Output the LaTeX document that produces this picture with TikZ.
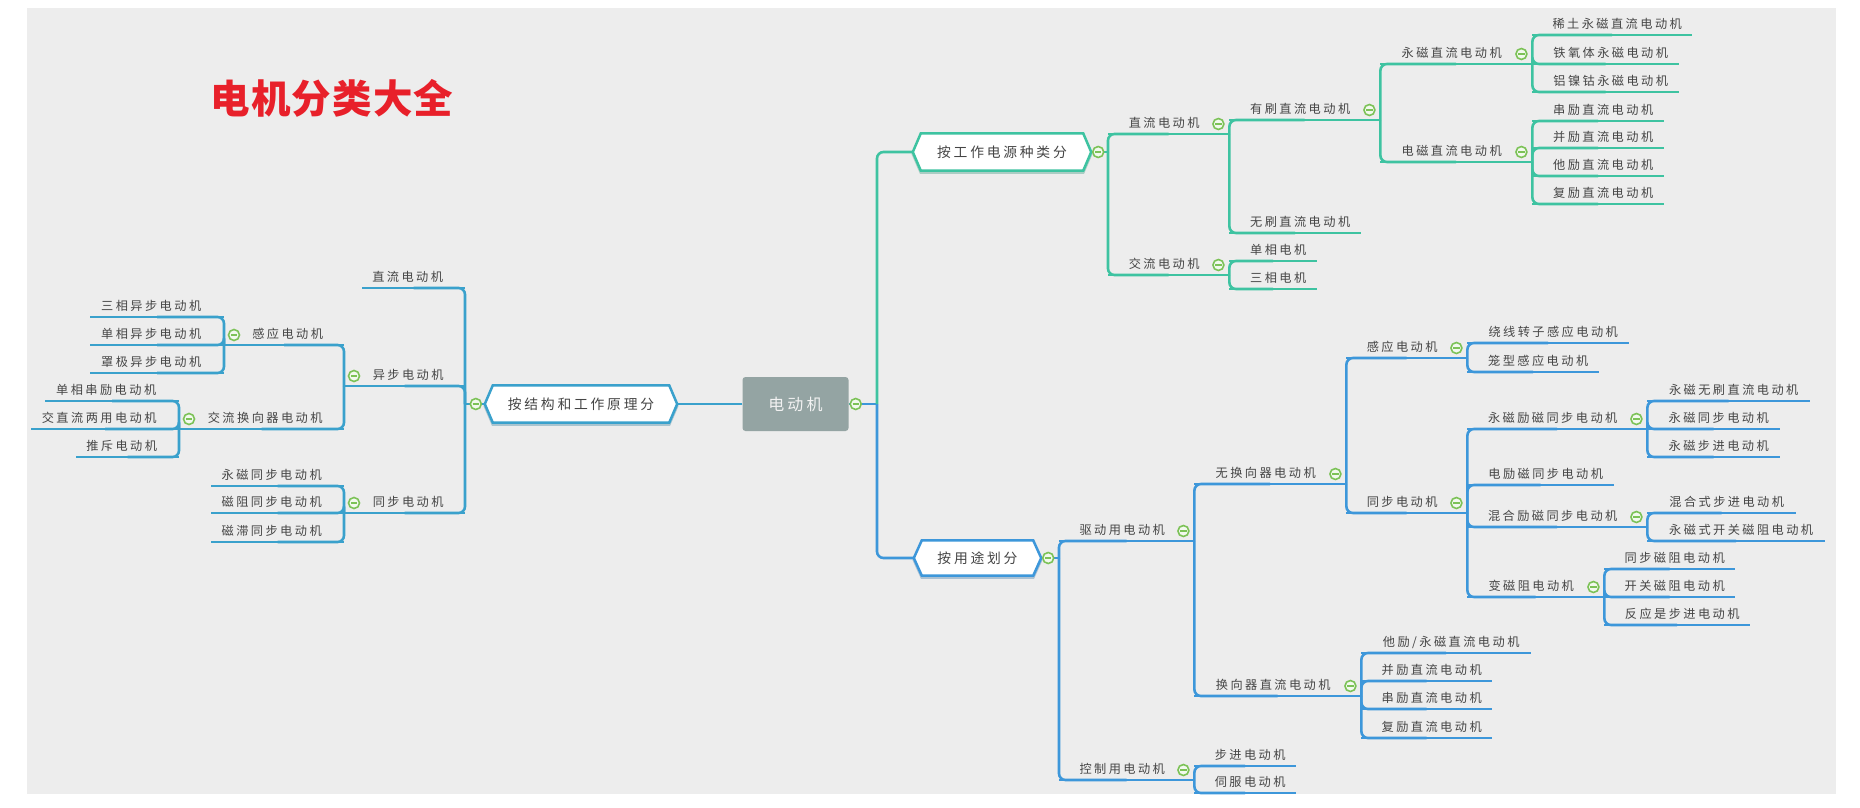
\documentclass[tikz,border=0pt]{standalone}
\usepackage{fontspec}
\setmainfont{Noto Sans CJK SC}
\newfontfamily\cjk{Noto Sans CJK SC}[LetterSpace=20]
\newfontfamily\cjkt{Noto Sans CJK SC}[LetterSpace=3]
\definecolor{cteal}{HTML}{3EC3A1}
\definecolor{cblue}{HTML}{3D97DA}
\definecolor{ccyan}{HTML}{3AA1CC}
\definecolor{cgray}{HTML}{94A4A3}
\definecolor{ctxt}{HTML}{454545}
\definecolor{cgreen}{HTML}{7CC257}
\definecolor{cred}{HTML}{E8202A}
\definecolor{cbg}{HTML}{EDEDED}
\pgfdeclarelayer{back}
\pgfsetlayers{back,main}
\begin{document}
\begin{tikzpicture}[x=1pt,y=-1pt,
  topic/.style={inner sep=0pt, minimum height=21pt, anchor=south west, text=ctxt, font=\cjk\fontsize{12.2}{13}\selectfont},
  rleaf/.style={topic, execute at begin node={\hspace*{10pt}}},
  lleaf/.style={topic, execute at end node={\hspace*{12pt}}},
  rmid/.style={topic, execute at end node={\hspace*{9pt}}},
  lmid/.style={topic, execute at begin node={\hspace*{7pt}}},
  hexn/.style={inner sep=0pt, minimum height=37pt, text=ctxt, font=\cjk\fontsize{13.8}{15}\selectfont},
  coll/.style={circle, draw=cgreen, fill=white!90!cgreen, line width=1.6pt, minimum size=11pt, inner sep=0pt,
    path picture={\draw[cgreen, line width=1.6pt] ([xshift=2.4pt]path picture bounding box.west) -- ([xshift=-2.4pt]path picture bounding box.east);}},
  conn/.style={line width=2.6pt, rounded corners=6.5pt},
  hexshape/.style={line width=2.5pt, fill=white, line join=miter},
]
\useasboundingbox (0,0) rectangle (1860,808);

% title
\node[font=\cjkt\bfseries\fontsize{39.5}{41}\selectfont, text=cred] (title) at (332,98) {电机分类大全};

% central node
\node[rounded corners=3pt, fill=cgray, minimum width=106pt, minimum height=54pt, inner sep=0pt,
      text=white!90!gray, font=\cjk\fontsize{16}{18}\selectfont] (C0) at (795.5,404) {电动机};

% main branch nodes
\node[hexn, minimum width=192pt] (L) at (581,404) {按结构和工作原理分};
\node[hexn, minimum width=178pt] (R1) at (1002,152) {按工作电源种类分};
\node[hexn, minimum width=127pt, minimum height=35pt] (R2) at (977.5,558) {按用途划分};

\coordinate (Ltr) at (465,404);
\coordinate (Rtr) at (877,404);
\coordinate (R1tr) at (1108,152);
\coordinate (R2tr) at (1059,558);

% ---------- right top (teal) ----------
\node[rmid, minimum width=121pt] (RA) at (1108,134) {直流电动机};
\node[rmid, minimum width=121pt] (RB) at (1108,275) {交流电动机};
\node[rmid, minimum width=151pt] (RA1) at (1229,120) {有刷直流电动机};
\node[rleaf, minimum width=132pt] (RA2) at (1229,233) {无刷直流电动机};
\node[rmid, minimum width=152pt] (RA11) at (1380,64) {永磁直流电动机};
\node[rmid, minimum width=152pt] (RA12) at (1380,162) {电磁直流电动机};
\node[rleaf, minimum width=160pt] (RA111) at (1532,35) {稀土永磁直流电动机};
\node[rleaf, minimum width=147pt] (RA112) at (1532,64) {铁氧体永磁电动机};
\node[rleaf, minimum width=147pt] (RA113) at (1532,92) {铝镍钴永磁电动机};
\node[rleaf, minimum width=132pt] (RA121) at (1532,121) {串励直流电动机};
\node[rleaf, minimum width=132pt] (RA122) at (1532,148) {并励直流电动机};
\node[rleaf, minimum width=132pt] (RA123) at (1532,176) {他励直流电动机};
\node[rleaf, minimum width=132pt] (RA124) at (1532,204) {复励直流电动机};
\node[rleaf, minimum width=88pt] (RB1) at (1229,261) {单相电机};
\node[rleaf, minimum width=88pt] (RB2) at (1229,289) {三相电机};

% ---------- right bottom (blue) ----------
\node[rmid, minimum width=135pt] (S1) at (1059,541) {驱动用电动机};
\node[rmid, minimum width=135pt] (S2) at (1059,780) {控制用电动机};
\node[rmid, minimum width=152pt] (S11) at (1194,484) {无换向器电动机};
\node[rmid, minimum width=167pt] (S12) at (1194,696) {换向器直流电动机};
\node[rmid, minimum width=121pt] (S111) at (1346,358) {感应电动机};
\node[rmid, minimum width=121pt] (S112) at (1346,513) {同步电动机};
\node[rleaf, minimum width=162pt] (S1111) at (1467,343) {绕线转子感应电动机};
\node[rleaf, minimum width=132pt] (S1112) at (1467,372) {笼型感应电动机};
\node[rmid, minimum width=180pt] (S1121) at (1467,429) {永磁励磁同步电动机};
\node[rleaf, minimum width=147pt] (S1122) at (1467,485) {电励磁同步电动机};
\node[rmid, minimum width=180pt] (S1123) at (1467,527) {混合励磁同步电动机};
\node[rmid, minimum width=137pt] (S1124) at (1467,597) {变磁阻电动机};
\node[rleaf, minimum width=163pt] (S11211) at (1647,401) {永磁无刷直流电动机};
\node[rleaf, minimum width=133pt] (S11212) at (1647,429) {永磁同步电动机};
\node[rleaf, minimum width=133pt] (S11213) at (1647,457) {永磁步进电动机};
\node[rleaf, minimum width=149pt] (S11231) at (1647,513) {混合式步进电动机};
\node[rleaf, minimum width=178pt] (S11232) at (1647,541) {永磁式开关磁阻电动机};
\node[rleaf, minimum width=131pt] (S11241) at (1604,569) {同步磁阻电动机};
\node[rleaf, minimum width=131pt] (S11242) at (1604,597) {开关磁阻电动机};
\node[rleaf, minimum width=146pt] (S11243) at (1604,625) {反应是步进电动机};
\node[rleaf, minimum width=170pt] (S121) at (1361,653) {他励/永磁直流电动机};
\node[rleaf, minimum width=131pt] (S122) at (1361,681) {并励直流电动机};
\node[rleaf, minimum width=131pt] (S123) at (1361,709) {串励直流电动机};
\node[rleaf, minimum width=131pt] (S124) at (1361,738) {复励直流电动机};
\node[rleaf, minimum width=102pt] (S21) at (1194,766) {步进电动机};
\node[rleaf, minimum width=102pt] (S22) at (1194,793) {伺服电动机};

% ---------- left (cyan) ----------
\node[lleaf, minimum width=103pt] (L1) at (362,288) {直流电动机};
\node[lmid, minimum width=121pt] (L2) at (344,386) {异步电动机};
\node[lmid, minimum width=121pt] (L3) at (344,513) {同步电动机};
\node[lmid, minimum width=120pt] (L21) at (224,345) {感应电动机};
\node[lmid, minimum width=165pt] (L22) at (179,429) {交流换向器电动机};
\node[lleaf, minimum width=134pt] (L211) at (90,317) {三相异步电动机};
\node[lleaf, minimum width=134pt] (L212) at (90,345) {单相异步电动机};
\node[lleaf, minimum width=134pt] (L213) at (90,373) {罩极异步电动机};
\node[lleaf, minimum width=134pt] (L221) at (45,401) {单相串励电动机};
\node[lleaf, minimum width=148pt] (L222) at (31,429) {交直流两用电动机};
\node[lleaf, minimum width=103pt] (L223) at (76,457) {推斥电动机};
\node[lleaf, minimum width=133pt] (L31) at (211,486) {永磁同步电动机};
\node[lleaf, minimum width=133pt] (L32) at (211,513) {磁阻同步电动机};
\node[lleaf, minimum width=133pt] (L33) at (211,542) {磁滞同步电动机};

% background and hexagon shapes
\begin{pgfonlayer}{back}
\fill[white] (0,0) rectangle (1860,808);
\fill[cbg] (27,8) rectangle (1836,794);
\foreach \n/\c in {L/ccyan, R1/cteal, R2/cblue}{
  \draw[line width=2.5pt, draw=\c!75!black, opacity=0.35] ([yshift=-2pt]\n.west) -- ([xshift=8pt,yshift=-2pt]\n.north west) -- ([xshift=-8pt,yshift=-2pt]\n.north east)
    -- ([yshift=-2pt]\n.east) -- ([xshift=-8pt,yshift=-2pt]\n.south east) -- ([xshift=8pt,yshift=-2pt]\n.south west) -- cycle;
  \filldraw[hexshape, draw=\c] (\n.west) -- ([xshift=8pt]\n.north west) -- ([xshift=-8pt]\n.north east)
    -- (\n.east) -- ([xshift=-8pt]\n.south east) -- ([xshift=8pt]\n.south west) -- cycle;
}
\end{pgfonlayer}

% underlines
\foreach \n in {RA,RB,RA1,RA2,RA11,RA12,RA111,RA112,RA113,RA121,RA122,RA123,RA124,RB1,RB2}
  \draw[conn, cteal] (\n.south west) -- (\n.south east);
\foreach \n in {S1,S2,S11,S12,S111,S112,S1111,S1112,S1121,S1122,S1123,S1124,S11211,S11212,S11213,S11231,S11232,S11241,S11242,S11243,S121,S122,S123,S124,S21,S22}
  \draw[conn, cblue] (\n.south west) -- (\n.south east);
\foreach \n in {L1,L2,L3,L21,L22,L211,L212,L213,L221,L222,L223,L31,L32,L33}
  \draw[conn, ccyan] (\n.south west) -- (\n.south east);

% connectors: left
\draw[conn, ccyan] (C0.west) -- (L.east);
\draw[conn, ccyan] (L.west) -- (Ltr);
\foreach \c in {L1,L2,L3} \draw[conn, ccyan] (Ltr) |- (\c.south);
\foreach \p/\c in {L2/L21, L2/L22, L21/L211, L21/L212, L21/L213, L22/L221, L22/L222, L22/L223, L3/L31, L3/L32, L3/L33}
  \draw[conn, ccyan] (\p.south west) |- (\c.south);

% connectors: right top
\draw[conn, cblue] (C0.east) -- (Rtr);
\draw[conn, cteal] (Rtr) |- (R1.west);
\draw[conn, cteal] (R1.east) -- (R1tr);
\foreach \c in {RA,RB} \draw[conn, cteal] (R1tr) |- (\c.south);
\foreach \p/\c in {RA/RA1, RA/RA2, RA1/RA11, RA1/RA12, RA11/RA111, RA11/RA112, RA11/RA113, RA12/RA121, RA12/RA122, RA12/RA123, RA12/RA124, RB/RB1, RB/RB2}
  \draw[conn, cteal] (\p.south east) |- (\c.south);

% connectors: right bottom
\draw[conn, cblue] (Rtr) |- (R2.west);
\draw[conn, cblue] (R2.east) -- (R2tr);
\foreach \c in {S1,S2} \draw[conn, cblue] (R2tr) |- (\c.south);
\foreach \p/\c in {S1/S11, S1/S12, S11/S111, S11/S112, S111/S1111, S111/S1112, S112/S1121, S112/S1122, S112/S1123, S112/S1124, S1121/S11211, S1121/S11212, S1121/S11213, S1123/S11231, S1123/S11232, S1124/S11241, S1124/S11242, S1124/S11243, S12/S121, S12/S122, S12/S123, S12/S124, S2/S21, S2/S22}
  \draw[conn, cblue] (\p.south east) |- (\c.south);

% collapse markers
\foreach \n in {RA,RB,RA1,RA11,RA12,S1,S2,S11,S12,S111,S112,S1121,S1123,S1124}
  \node[coll] (c\n) at ([xshift=-11pt,yshift=10pt]\n.south east) {};
\foreach \n in {L2,L3,L21,L22}
  \node[coll] (c\n) at ([xshift=10pt,yshift=10pt]\n.south west) {};
\node[coll] (cL) at ([xshift=-9pt]L.west) {};
\node[coll] (cR1) at ([xshift=7pt]R1.east) {};
\node[coll] (cR2) at ([xshift=7pt]R2.east) {};
\node[coll] (cC0) at ([xshift=7pt]C0.east) {};
\end{tikzpicture}
\end{document}
